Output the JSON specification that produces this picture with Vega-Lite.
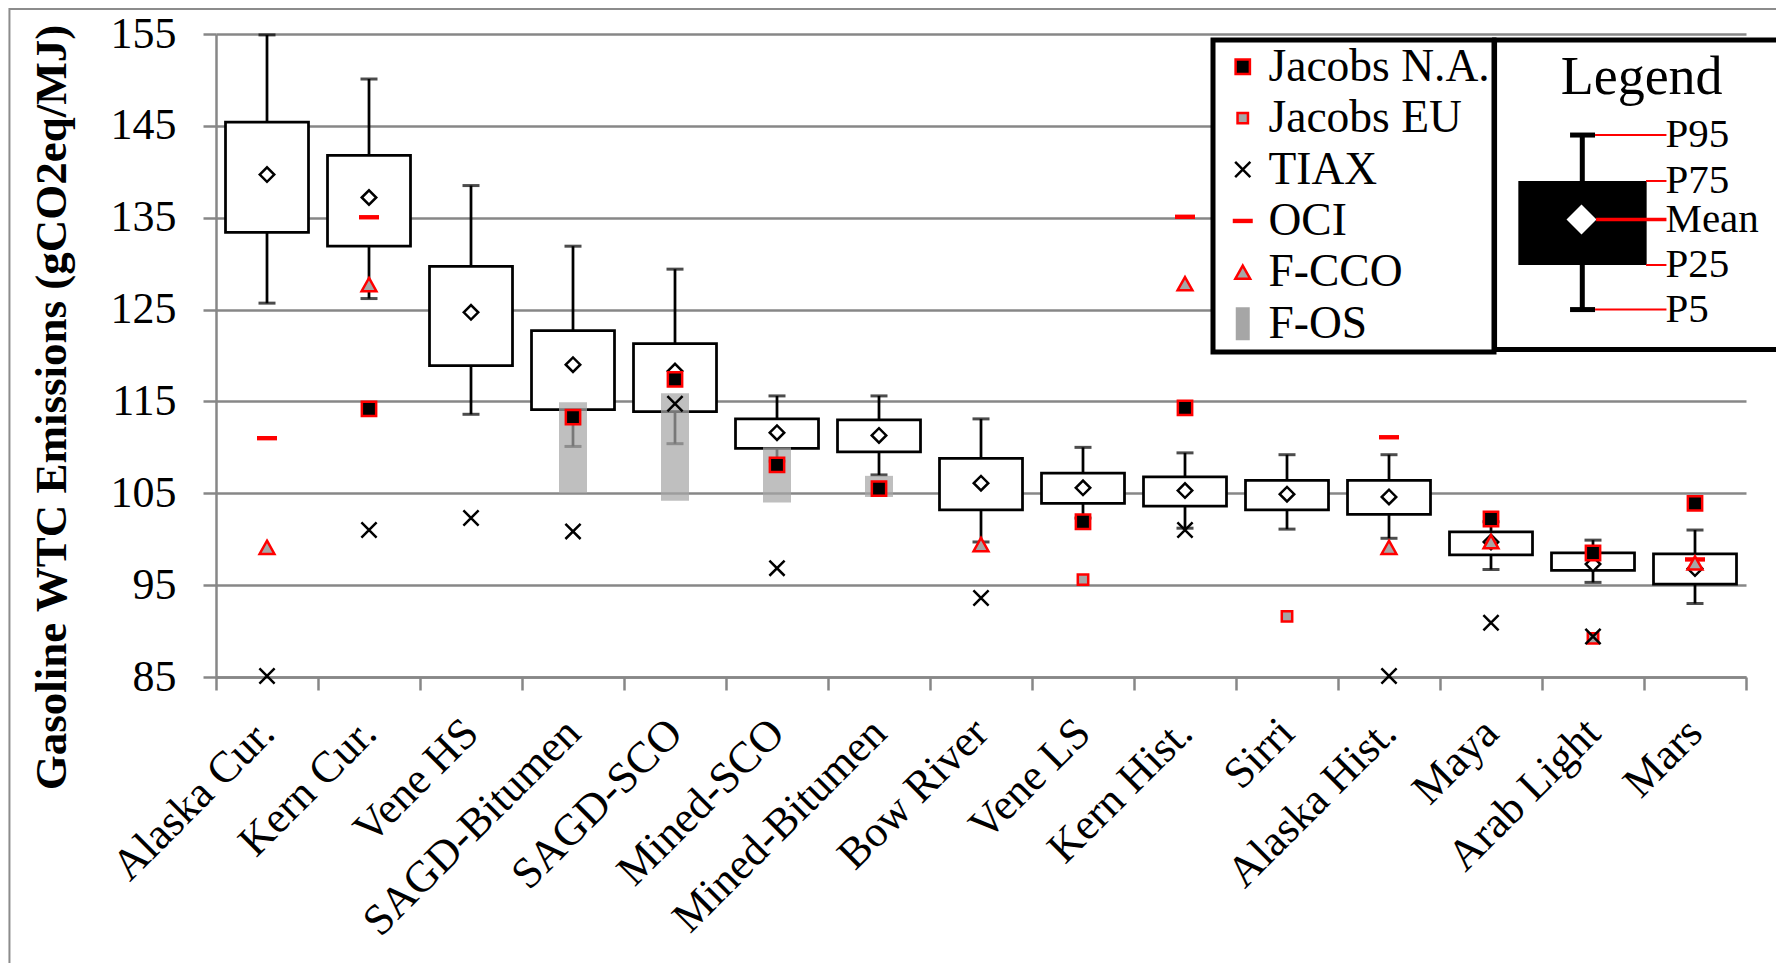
{
  "$schema": "https://vega.github.io/schema/vega-lite/v6.json",
  "width": 1530,
  "height": 643,
  "autosize": {"type": "none"},
  "padding": {"left": 216, "top": 34, "right": 30, "bottom": 286},
  "background": "white",
  "datasets": {
    "stats": [
      {"crude": "Alaska Cur.", "p5": 125.7, "p25": 133.4, "mean": 139.7, "p75": 145.4, "p95": 154.9},
      {"crude": "Kern Cur.", "p5": 126.2, "p25": 131.9, "mean": 137.2, "p75": 141.8, "p95": 150.1},
      {"crude": "Vene HS", "p5": 113.6, "p25": 118.9, "mean": 124.7, "p75": 129.7, "p95": 138.5},
      {"crude": "SAGD-Bitumen", "p5": 110.1, "p25": 114.1, "mean": 119.0, "p75": 122.7, "p95": 131.9},
      {"crude": "SAGD-SCO", "p5": 110.4, "p25": 113.9, "mean": 118.3, "p75": 121.3, "p95": 129.4},
      {"crude": "Mined-SCO", "p5": 108.5, "p25": 109.9, "mean": 111.6, "p75": 113.1, "p95": 115.6},
      {"crude": "Mined-Bitumen", "p5": 107.0, "p25": 109.5, "mean": 111.3, "p75": 113.0, "p95": 115.6},
      {"crude": "Bow River", "p5": 99.7, "p25": 103.2, "mean": 106.1, "p75": 108.8, "p95": 113.1},
      {"crude": "Vene LS", "p5": 102.3, "p25": 103.9, "mean": 105.6, "p75": 107.2, "p95": 110.0},
      {"crude": "Kern Hist.", "p5": 101.2, "p25": 103.6, "mean": 105.3, "p75": 106.8, "p95": 109.4},
      {"crude": "Sirri", "p5": 101.1, "p25": 103.2, "mean": 104.9, "p75": 106.4, "p95": 109.2},
      {"crude": "Alaska Hist.", "p5": 100.1, "p25": 102.7, "mean": 104.6, "p75": 106.4, "p95": 109.2},
      {"crude": "Maya", "p5": 96.7, "p25": 98.3, "mean": 99.7, "p75": 100.8, "p95": 101.9},
      {"crude": "Arab Light", "p5": 95.3, "p25": 96.6, "mean": 97.3, "p75": 98.5, "p95": 99.9},
      {"crude": "Mars", "p5": 93.0, "p25": 95.1, "mean": 96.8, "p75": 98.4, "p95": 101.0}
    ],
    "fos": [
      {"crude": "SAGD-Bitumen", "series": "F-OS", "lo": 105.0, "hi": 114.9},
      {"crude": "SAGD-SCO", "series": "F-OS", "lo": 104.2, "hi": 115.9},
      {"crude": "Mined-SCO", "series": "F-OS", "lo": 104.0, "hi": 110.0},
      {"crude": "Mined-Bitumen", "series": "F-OS", "lo": 104.6, "hi": 106.9}
    ],
    "pts": [
      {"crude": "Alaska Cur.", "series": "OCI", "value": 111.0},
      {"crude": "Alaska Cur.", "series": "F-CCO", "value": 99.1},
      {"crude": "Alaska Cur.", "series": "TIAX", "value": 85.1},
      {"crude": "Kern Cur.", "series": "OCI", "value": 135.05},
      {"crude": "Kern Cur.", "series": "F-CCO", "value": 127.7},
      {"crude": "Kern Cur.", "series": "Jacobs N.A.", "value": 114.2},
      {"crude": "Kern Cur.", "series": "TIAX", "value": 101.0},
      {"crude": "Vene HS", "series": "TIAX", "value": 102.3},
      {"crude": "SAGD-Bitumen", "series": "Jacobs N.A.", "value": 113.3},
      {"crude": "SAGD-Bitumen", "series": "TIAX", "value": 100.85},
      {"crude": "SAGD-SCO", "series": "Jacobs N.A.", "value": 117.4},
      {"crude": "SAGD-SCO", "series": "TIAX", "value": 114.75},
      {"crude": "Mined-SCO", "series": "Jacobs N.A.", "value": 108.1},
      {"crude": "Mined-SCO", "series": "TIAX", "value": 96.85},
      {"crude": "Mined-Bitumen", "series": "Jacobs N.A.", "value": 105.5},
      {"crude": "Bow River", "series": "F-CCO", "value": 99.4},
      {"crude": "Bow River", "series": "TIAX", "value": 93.6},
      {"crude": "Vene LS", "series": "Jacobs N.A.", "value": 101.9},
      {"crude": "Vene LS", "series": "Jacobs EU", "value": 95.6},
      {"crude": "Kern Hist.", "series": "OCI", "value": 135.1},
      {"crude": "Kern Hist.", "series": "F-CCO", "value": 127.8},
      {"crude": "Kern Hist.", "series": "Jacobs N.A.", "value": 114.3},
      {"crude": "Kern Hist.", "series": "TIAX", "value": 101.0},
      {"crude": "Sirri", "series": "Jacobs EU", "value": 91.6},
      {"crude": "Alaska Hist.", "series": "OCI", "value": 111.1},
      {"crude": "Alaska Hist.", "series": "F-CCO", "value": 99.1},
      {"crude": "Alaska Hist.", "series": "TIAX", "value": 85.1},
      {"crude": "Maya", "series": "Jacobs N.A.", "value": 102.2},
      {"crude": "Maya", "series": "F-CCO", "value": 99.7},
      {"crude": "Maya", "series": "TIAX", "value": 90.9},
      {"crude": "Arab Light", "series": "Jacobs EU", "value": 89.2},
      {"crude": "Arab Light", "series": "Jacobs N.A.", "value": 98.5},
      {"crude": "Arab Light", "series": "TIAX", "value": 89.4},
      {"crude": "Mars", "series": "Jacobs N.A.", "value": 103.9},
      {"crude": "Mars", "series": "OCI", "value": 97.8},
      {"crude": "Mars", "series": "F-CCO", "value": 97.4}
    ],
    "keyBox": [
      {"p5": 125.0, "p25": 129.85, "mean": 134.8, "p75": 139.0, "p95": 144.0}
    ],
    "keyStats": [
      {"stat": "P95", "v": 144.0},
      {"stat": "P75", "v": 139.0},
      {"stat": "Mean", "v": 134.8},
      {"stat": "P25", "v": 129.85},
      {"stat": "P5", "v": 125.0}
    ]
  },
  "layer": [
    {
      "encoding": {
        "x": {
          "field": "crude",
          "type": "nominal",
          "title": null,
          "scale": {
            "domain": ["Alaska Cur.", "Kern Cur.", "Vene HS", "SAGD-Bitumen", "SAGD-SCO", "Mined-SCO", "Mined-Bitumen", "Bow River", "Vene LS", "Kern Hist.", "Sirri", "Alaska Hist.", "Maya", "Arab Light", "Mars"],
            "paddingInner": 0,
            "paddingOuter": 0
          },
          "axis": {
            "tickBand": "extent",
            "grid": false,
            "tickSize": 13,
            "tickColor": "#878787",
            "tickWidth": 2.5,
            "domainColor": "#878787",
            "domainWidth": 2.5,
            "labelAngle": -45,
            "labelAlign": "right",
            "labelBaseline": "middle",
            "labelFont": "Liberation Serif",
            "labelFontSize": 44,
            "labelColor": "black",
            "labelPadding": 36,
            "labelLimit": 500,
            "labelOverlap": false
          }
        }
      },
      "layer": [
        {
          "data": {"name": "stats"},
          "mark": {"type": "rule", "color": "black", "strokeWidth": 2.75},
          "encoding": {
            "y": {
              "field": "p5",
              "type": "quantitative",
              "scale": {"domain": [85, 155], "nice": false, "zero": false},
              "axis": {
                "values": [85, 95, 105, 115, 125, 135, 145, 155],
                "grid": true,
                "gridColor": "#878787",
                "gridWidth": 2.5,
                "tickSize": 13,
                "tickColor": "#878787",
                "tickWidth": 2.5,
                "domainColor": "#878787",
                "domainWidth": 2.5,
                "labelFont": "Liberation Serif",
                "labelFontSize": 44,
                "labelColor": "black",
                "labelPadding": 27,
                "labelBaseline": "middle",
                "title": "Gasoline WTC Emissions (gCO2eq/MJ)",
                "titleFont": "Liberation Serif",
                "titleFontSize": 45,
                "titleFontWeight": "bold",
                "titleColor": "black",
                "titleAngle": 270,
                "titleAlign": "center",
                "titleBaseline": "alphabetic",
                "titleX": -151,
                "titleY": 373
              }
            },
            "y2": {"field": "p95"}
          }
        },
        {
          "data": {"name": "stats"},
          "mark": {"type": "tick", "color": "black", "size": 17, "thickness": 3, "orient": "horizontal"},
          "encoding": {"y": {"field": "p95", "type": "quantitative"}}
        },
        {
          "data": {"name": "stats"},
          "mark": {"type": "tick", "color": "black", "size": 17, "thickness": 3, "orient": "horizontal"},
          "encoding": {"y": {"field": "p5", "type": "quantitative"}}
        },
        {
          "data": {"name": "stats"},
          "mark": {"type": "bar", "size": 83, "fill": "white", "stroke": "black", "strokeWidth": 2.75},
          "encoding": {
            "y": {"field": "p25", "type": "quantitative"},
            "y2": {"field": "p75"}
          }
        },
        {
          "data": {"name": "fos"},
          "mark": {"type": "bar", "size": 28, "fill": "#a6a6a6", "opacity": 0.72},
          "encoding": {
            "y": {"field": "lo", "type": "quantitative"},
            "y2": {"field": "hi"}
          }
        },
        {
          "data": {"name": "stats"},
          "mark": {"type": "point", "shape": "diamond", "size": 210, "filled": true, "fill": "white", "stroke": "black", "strokeWidth": 2.5, "opacity": 1},
          "encoding": {"y": {"field": "mean", "type": "quantitative"}}
        },
        {
          "data": {"name": "pts"},
          "mark": {"type": "point", "filled": true, "size": 400, "strokeWidth": 2.5, "opacity": 1},
          "encoding": {
            "y": {"field": "value", "type": "quantitative"},
            "fill": {
              "field": "series",
              "type": "nominal",
              "legend": {"title": null},
              "scale": {
                "domain": ["Jacobs N.A.", "Jacobs EU", "TIAX", "OCI", "F-CCO", "F-OS"],
                "range": ["black", "#a6a6a6", "transparent", "red", "#a6a6a6", "#a6a6a6"]
              }
            },
            "stroke": {
              "field": "series",
              "type": "nominal",
              "legend": {"title": null},
              "scale": {
                "domain": ["Jacobs N.A.", "Jacobs EU", "TIAX", "OCI", "F-CCO", "F-OS"],
                "range": ["red", "red", "black", "transparent", "red", "transparent"]
              }
            },
            "shape": {
              "field": "series",
              "type": "nominal",
              "legend": {"title": null},
              "scale": {
                "domain": ["Jacobs N.A.", "Jacobs EU", "TIAX", "OCI", "F-CCO", "F-OS"],
                "range": [
                  "M-0.715,-0.715H0.715V0.715H-0.715Z",
                  "M-0.52,-0.52H0.52V0.52H-0.52Z",
                  "M-0.76,-0.76L0.76,0.76M-0.76,0.76L0.76,-0.76",
                  "M-1,-0.22H1V0.22H-1Z",
                  "M0,-0.68L0.74,0.64L-0.74,0.64Z",
                  "M-0.7,-1.65H0.7V1.65H-0.7Z"
                ]
              }
            }
          }
        }
      ]
    },
    {
      "layer": [
        {
          "data": {"values": [{"part": "chart area"}]},
          "mark": {"type": "rect", "fill": "transparent", "stroke": "#8c8c8c", "strokeWidth": 2},
          "encoding": {
            "x": {"datum": -2.025, "type": "quantitative", "scale": {"domain": [0, 15], "nice": false, "zero": false}, "axis": null},
            "x2": {"datum": 16},
            "y": {"datum": 157.72, "type": "quantitative", "axis": null},
            "y2": {"datum": 40}
          }
        },
        {
          "data": {"values": [{"part": "key"}]},
          "mark": {"type": "rect", "fill": "white", "stroke": "black", "strokeWidth": 5},
          "encoding": {
            "x": {"datum": 12.535, "type": "quantitative", "axis": null},
            "x2": {"datum": 15.6},
            "y": {"datum": 154.35, "type": "quantitative", "axis": null},
            "y2": {"datum": 120.65}
          }
        },
        {
          "data": {"name": "keyBox"},
          "mark": {"type": "rule", "color": "black", "strokeWidth": 5},
          "encoding": {
            "x": {"datum": 13.395, "type": "quantitative", "axis": null},
            "y": {"field": "p5", "type": "quantitative", "axis": null},
            "y2": {"field": "p95"}
          }
        },
        {
          "data": {"name": "keyBox"},
          "mark": {"type": "rule", "color": "black", "strokeWidth": 5},
          "encoding": {
            "x": {"datum": 13.275, "type": "quantitative", "axis": null},
            "x2": {"datum": 13.52},
            "y": {"field": "p95", "type": "quantitative", "axis": null}
          }
        },
        {
          "data": {"name": "keyBox"},
          "mark": {"type": "rule", "color": "black", "strokeWidth": 5},
          "encoding": {
            "x": {"datum": 13.275, "type": "quantitative", "axis": null},
            "x2": {"datum": 13.52},
            "y": {"field": "p5", "type": "quantitative", "axis": null}
          }
        },
        {
          "data": {"name": "keyBox"},
          "mark": {"type": "rect", "fill": "black"},
          "encoding": {
            "x": {"datum": 12.768, "type": "quantitative", "axis": null},
            "x2": {"datum": 14.026},
            "y": {"field": "p25", "type": "quantitative", "axis": null},
            "y2": {"field": "p75"}
          }
        },
        {
          "data": {"name": "keyBox"},
          "mark": {"type": "point", "shape": "diamond", "size": 900, "filled": true, "fill": "white", "strokeWidth": 0, "opacity": 1},
          "encoding": {
            "x": {"datum": 13.387, "type": "quantitative", "axis": null},
            "y": {"field": "mean", "type": "quantitative", "axis": null}
          }
        },
        {
          "data": {"name": "keyStats"},
          "transform": [{"filter": "datum.stat === 'P95' || datum.stat === 'P5'"}],
          "mark": {"type": "rule", "color": "red", "strokeWidth": 2},
          "encoding": {
            "x": {"datum": 13.52, "type": "quantitative", "axis": null},
            "x2": {"datum": 14.22},
            "y": {"field": "v", "type": "quantitative", "axis": null}
          }
        },
        {
          "data": {"name": "keyStats"},
          "transform": [{"filter": "datum.stat === 'P75' || datum.stat === 'P25'"}],
          "mark": {"type": "rule", "color": "red", "strokeWidth": 2},
          "encoding": {
            "x": {"datum": 14.02, "type": "quantitative", "axis": null},
            "x2": {"datum": 14.22},
            "y": {"field": "v", "type": "quantitative", "axis": null}
          }
        },
        {
          "data": {"name": "keyStats"},
          "transform": [{"filter": "datum.stat === 'Mean'"}],
          "mark": {"type": "rule", "color": "red", "strokeWidth": 3.5},
          "encoding": {
            "x": {"datum": 13.53, "type": "quantitative", "axis": null},
            "x2": {"datum": 14.22},
            "y": {"field": "v", "type": "quantitative", "axis": null}
          }
        },
        {
          "data": {"name": "keyStats"},
          "mark": {"type": "text", "align": "left", "baseline": "middle", "font": "Liberation Serif", "fontSize": 41, "color": "black"},
          "encoding": {
            "x": {"datum": 14.21, "type": "quantitative", "axis": null},
            "y": {"field": "v", "type": "quantitative", "axis": null},
            "text": {"field": "stat"}
          }
        },
        {
          "data": {"values": [{"label": "Legend"}]},
          "mark": {"type": "text", "align": "center", "baseline": "alphabetic", "font": "Liberation Serif", "fontSize": 54, "color": "black"},
          "encoding": {
            "x": {"datum": 13.977, "type": "quantitative", "axis": null},
            "y": {"datum": 148.52, "type": "quantitative", "axis": null},
            "text": {"field": "label"}
          }
        }
      ]
    }
  ],
  "resolve": {"scale": {"x": "independent"}, "axis": {"y": "independent"}},
  "config": {
    "font": "Liberation Serif",
    "view": {"stroke": null},
    "legend": {
      "orient": "none",
      "legendX": 997,
      "legendY": 6,
      "padding": 4,
      "strokeColor": "black",
      "strokeWidth": 5,
      "fillColor": "white",
      "cornerRadius": 0,
      "labelFont": "Liberation Serif",
      "labelFontSize": 45.5,
      "labelColor": "black",
      "labelLimit": 500,
      "labelOffset": 3,
      "rowPadding": 4.4,
      "symbolSize": 400,
      "symbolStrokeWidth": 2.5,
      "symbolOffset": 3,
      "symbolOpacity": 1
    }
  }
}
